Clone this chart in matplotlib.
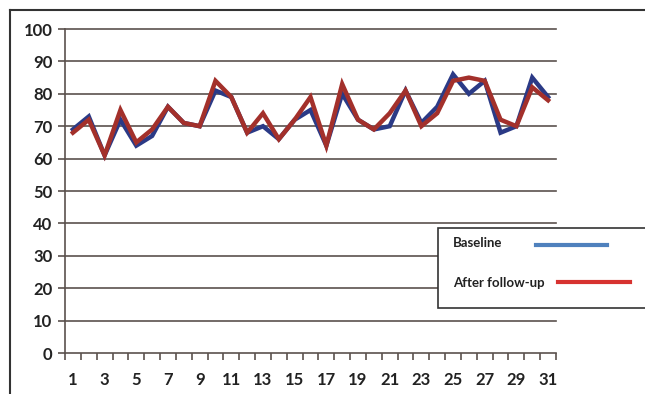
import matplotlib
matplotlib.use("Agg")
import matplotlib.pyplot as plt
from matplotlib.lines import Line2D
from matplotlib.patches import Rectangle

days = list(range(1, 32))
baseline = [69, 73, 61, 72, 64, 67, 76, 71, 70, 81, 79, 68, 70, 66, 72, 75,
            64, 80, 72, 69, 70, 81, 71, 76, 86, 80, 84, 68, 70, 85, 79]
follow_up = [68, 72, 61, 75, 65, 69, 76, 71, 70, 84, 79, 68, 74, 66, 72, 79,
             64, 83, 72, 69, 74, 81, 70, 74, 84, 85, 84, 72, 70, 82, 78]
yticks = list(range(0, 101, 10))
xlabels = [str(d) if d % 2 == 1 else "" for d in days]
series_names = ["Baseline", "After follow-up"]

plt.rcParams['font.family'] = ['Lato', 'DejaVu Sans']
W, H = 645, 394
fig = plt.figure(figsize=(W / 100, H / 100), dpi=100)
fig.patch.set_facecolor("white")

grid_c = "#5b524e"
ax = fig.add_axes([65 / W, 1 - 353 / H, (556 - 65) / W, (353 - 29) / H])
ax.set_xlim(0.5, 31.5)
ax.set_ylim(0, 100)
for y in yticks:
    ax.axhline(y, color=grid_c, lw=1.2, zorder=1, clip_on=False)
ax.plot(days, baseline, color="#2b3a86", lw=3.2, solid_joinstyle="miter", zorder=3)
ax.plot(days, follow_up, color="#a3302b", lw=3.2, solid_joinstyle="miter", zorder=4)

for s in ["top", "right", "bottom"]:
    ax.spines[s].set_visible(False)
ax.spines["left"].set_color(grid_c)
ax.spines["left"].set_linewidth(1.2)

ax.set_yticks(yticks)
ax.set_yticklabels([str(v) for v in yticks], fontsize=12, fontweight="bold", color="#222222")
ax.tick_params(axis="y", length=5, width=1.2, color=grid_c, pad=4)

ax.set_xticks([d + 0.5 for d in [0] + days])
ax.set_xticklabels([])
ax.set_xticks(days, minor=True)
ax.set_xticklabels(xlabels, minor=True, fontsize=12, fontweight="bold", color="#222222")
ax.tick_params(axis="x", which="major", length=5, width=1.2, color=grid_c, direction="out")
ax.tick_params(axis="x", which="minor", length=0, pad=14)

# outer frame
fig.add_artist(Line2D([10 / W, 10 / W], [0, 1 - 10 / H], color="#333333", lw=1.5, transform=fig.transFigure))
fig.add_artist(Line2D([10 / W, 1], [1 - 10 / H, 1 - 10 / H], color="#333333", lw=1.5, transform=fig.transFigure))

# legend box
fig.add_artist(Rectangle((438 / W, 1 - 308 / H), (660 - 438) / W, (308 - 228) / H,
                         transform=fig.transFigure, facecolor="white", edgecolor="#333333", lw=1.2, zorder=10))
fig.text(453 / W, 1 - 243 / H, series_names[0], fontsize=9.5, fontweight="bold", va="center", ha="left", color="#222222", zorder=11)
fig.text(453 / W, 1 - 283 / H, series_names[1], fontsize=9.5, fontweight="bold", va="center", ha="left", color="#222222", zorder=11)
fig.add_artist(Line2D([536 / W, 607 / W], [1 - 245 / H, 1 - 245 / H], color="#4f81bd", lw=3, transform=fig.transFigure, zorder=11))
fig.add_artist(Line2D([558 / W, 630 / W], [1 - 282 / H, 1 - 282 / H], color="#d73230", lw=3, transform=fig.transFigure, zorder=11))

fig.savefig("out.png", dpi=100)
